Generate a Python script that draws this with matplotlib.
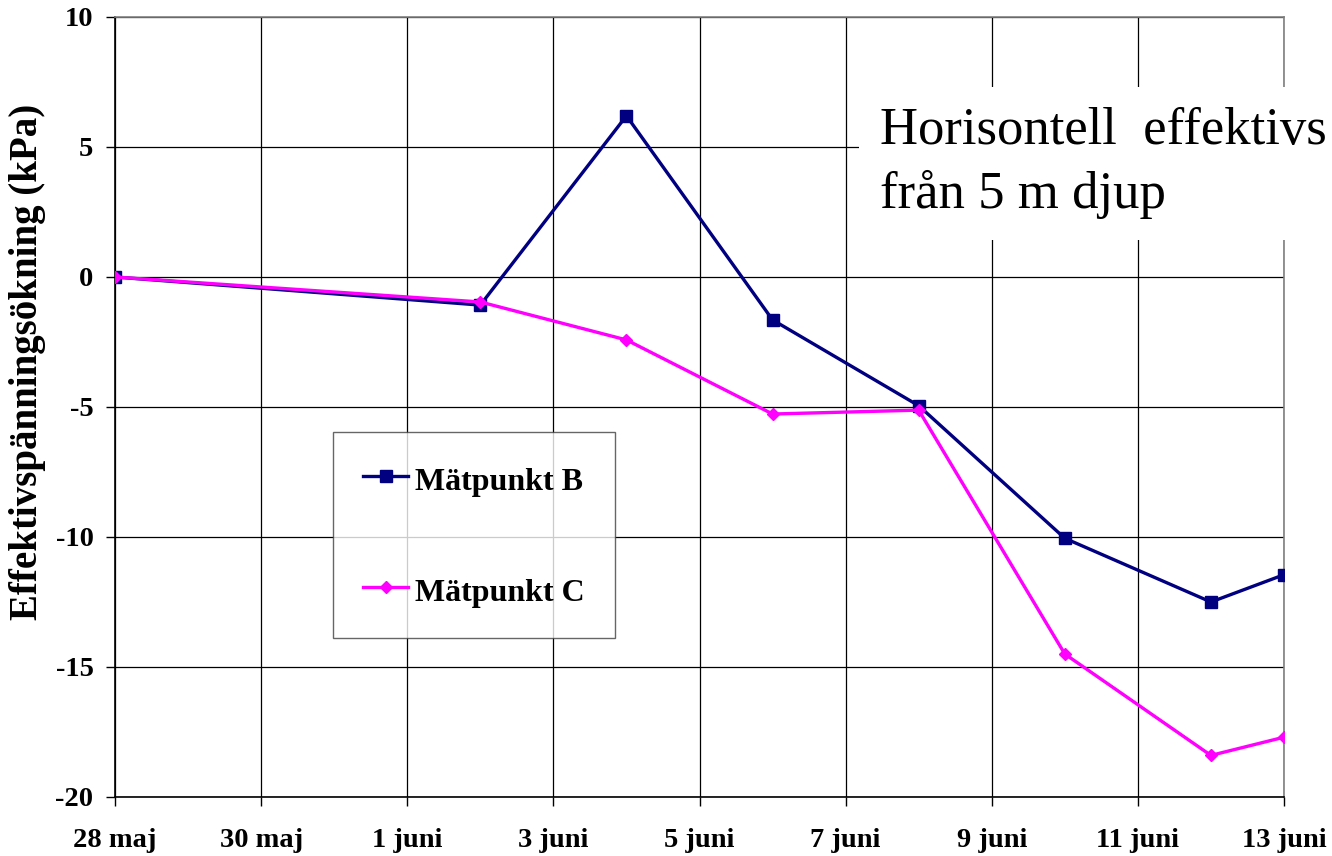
import matplotlib
matplotlib.use("Agg")
import matplotlib.pyplot as plt

plt.rcParams['font.family'] = ['Liberation Serif', 'DejaVu Serif']

days_b = [0, 5, 7, 9, 11, 13, 15, 16]
vals_b = [0.0, -1.08, 6.2, -1.65, -4.95, -10.05, -12.5, -11.45]
days_c = [0, 5, 7, 9, 11, 13, 15, 16]
vals_c = [0.0, -0.96, -2.42, -5.27, -5.12, -14.5, -18.4, -17.7]

xtick_pos = [0, 2, 4, 6, 8, 10, 12, 14, 16]
xtick_labels = ["28 maj", "30 maj", "1 juni", "3 juni", "5 juni", "7 juni",
                "9 juni", "11 juni", "13 juni"]
ytick_pos = [10, 5, 0, -5, -10, -15, -20]

fig = plt.figure(figsize=(13.32, 8.56), dpi=100)
ax = fig.add_axes([115/1332, 1-797/856, (1284-115)/1332, (797-17)/856])

ax.plot(days_b, vals_b, color='#000080', lw=2.4, marker='s', ms=8,
        label='Mätpunkt B', zorder=3)
ax.plot(days_c, vals_c, color='#FF00FF', lw=2.4, marker='D', ms=6.5,
        label='Mätpunkt C', zorder=4)

ax.set_xlim(0, 16)
ax.set_ylim(-20, 10)
ax.set_xticks(xtick_pos)
ax.set_xticklabels(xtick_labels, fontsize=20.5, fontweight='bold')
ax.set_yticks(ytick_pos)
ax.set_yticklabels([str(v) for v in ytick_pos], fontsize=20.5, fontweight='bold')
ax.tick_params(direction='out', length=6.5, width=1, color='black')
ax.tick_params(axis='x', pad=16)
ax.tick_params(axis='y', pad=9)
ax.grid(True, color='black', lw=0.9)
ax.set_axisbelow(True)
for s in ['top', 'right']:
    ax.spines[s].set_color('#808080')
    ax.spines[s].set_linewidth(1.2)
for s in ['left', 'bottom']:
    ax.spines[s].set_color('black')
    ax.spines[s].set_linewidth(1.2)

fig.text(28/1332, 1-362/856, 'Effektivspänningsökning (kPa)', fontsize=28,
         fontweight='bold', rotation=90, ha='center', va='center')

leg = ax.legend(loc='upper left', bbox_to_anchor=((333-115)/1169, (797-432)/780),
                prop={'weight': 'bold', 'size': 23},
                frameon=True, fancybox=False, labelspacing=2.35,
                borderpad=0.95, handlelength=1.4, handleheight=1.3,
                handletextpad=0.22, borderaxespad=0)
leg.get_frame().set_edgecolor('#404040')
leg.get_frame().set_linewidth(1.0)
leg.set_zorder(10)

fig.text(880/1332, 1-208/856, "Horisontell  effektivs\nfrån 5 m djup",
         fontsize=38, ha='left', va='baseline', linespacing=1.39,
         bbox=dict(facecolor='white', edgecolor='none', pad=15), zorder=20)

fig.savefig('out.png', dpi=100)
